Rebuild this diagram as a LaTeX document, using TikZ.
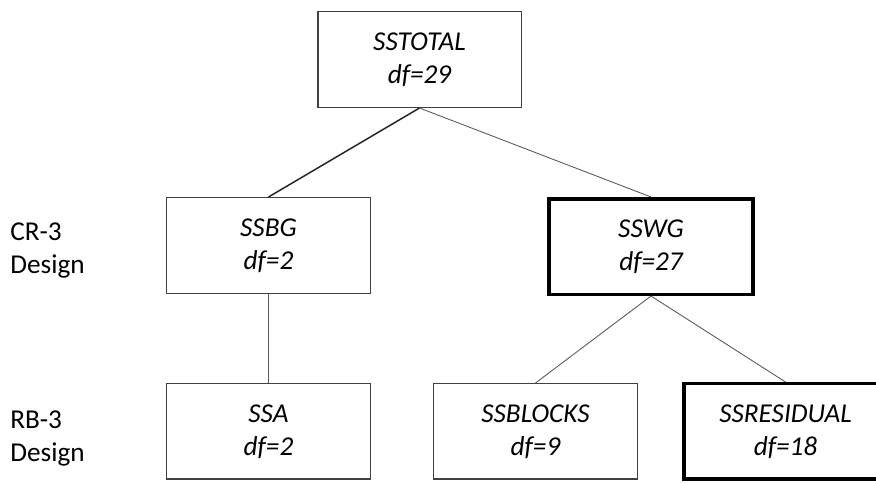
\documentclass[tikz,border=0pt]{standalone}
\usepackage{fontspec}
\setmainfont{Carlito}
\usetikzlibrary{positioning}

\begin{document}
\begin{tikzpicture}[
ssbox/.style={rectangle, draw=black!75, line width=0.85pt, minimum width=4.07cm, minimum height=1.91cm, align=center, font=\fontsize{15.5}{19}\selectfont\itshape},
keybox/.style={ssbox, draw=black, line width=2pt},
design/.style={align=left, inner sep=0pt, font=\fontsize{15.5}{19}\selectfont},
link/.style={draw=black!65, line width=0.5pt}
]
\clip (0,0) rectangle (17.52,-9.64);
%Nodes
\node[ssbox]   (total)  at (8.39,-1.19)                         {SSTOTAL\\df=29};
\node[ssbox]   (bg)     [below=1.78cm of total, xshift=-3.02cm] {SSBG\\df=2};
\node[keybox]  (wg)     [below=1.78cm of total, xshift=4.63cm]  {SSWG\\df=27};
\node[ssbox]   (a)      [below=1.78cm of bg]                    {SSA\\df=2};
\node[ssbox]   (blocks) [right=1.24cm of a]                     {SSBLOCKS\\df=9};
\node[keybox]  (resid)  [right=0.88cm of blocks]                {SSRESIDUAL\\df=18};
\node[design]  (cr)     [left=1.62cm of bg, yshift=-0.1cm]      {CR-3\\Design};
\node[design]  (rb)     [left=1.62cm of a, yshift=-0.14cm]      {RB-3\\Design};
%Lines
\draw[link, draw=black!85, line width=0.85pt] (total.south) -- (bg.north);
\draw[link] (total.south) -- (wg.north);
\draw[link] (bg.south) -- (a.north);
\draw[link] (wg.south) -- (blocks.north);
\draw[link] (wg.south) -- (resid.north);
\end{tikzpicture}
\end{document}
